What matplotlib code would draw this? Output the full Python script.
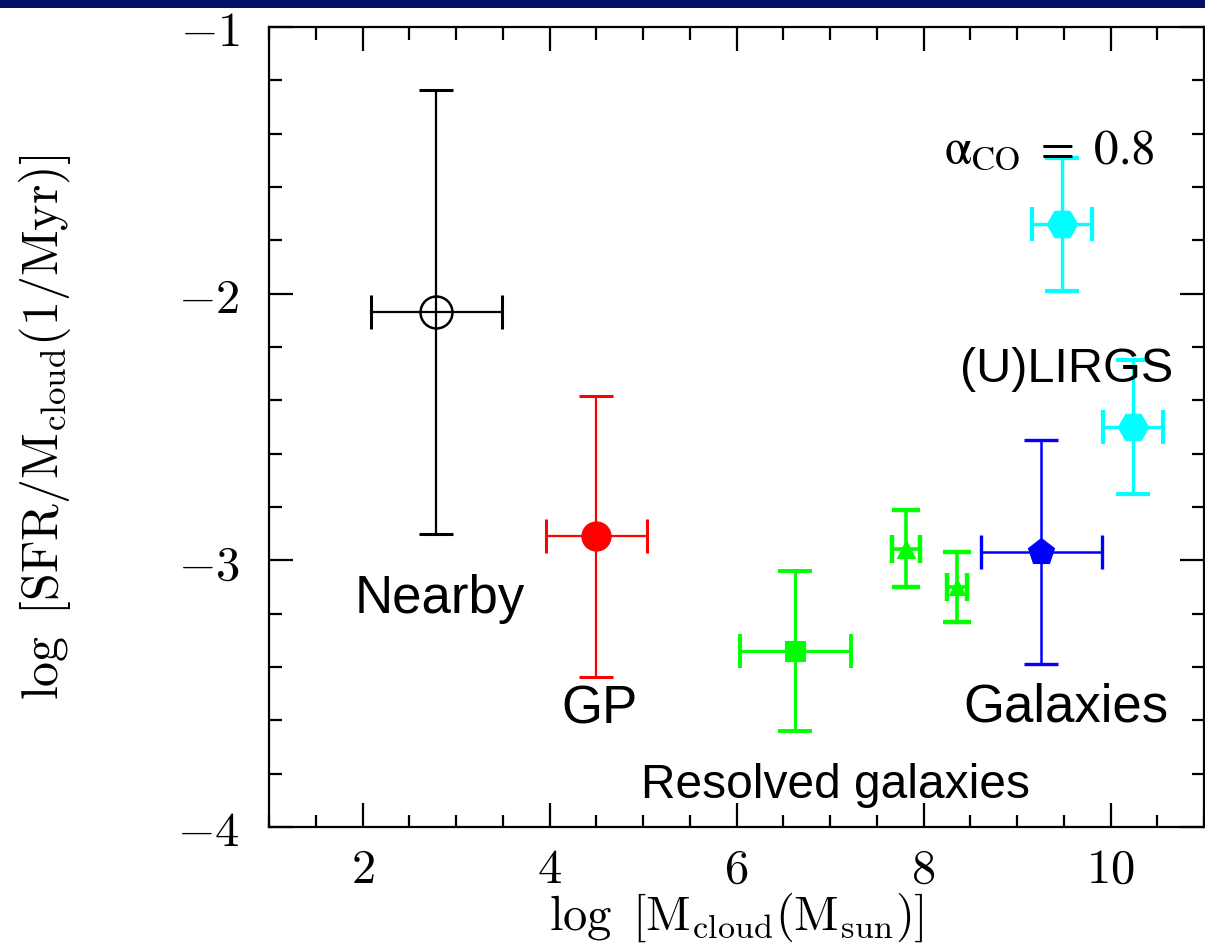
import matplotlib
matplotlib.use("Agg")
import matplotlib.pyplot as plt
from matplotlib.patches import Rectangle
from matplotlib.ticker import MultipleLocator, FuncFormatter

plt.rcParams['mathtext.fontset'] = 'cm'

# Samples: log cloud mass, log SFR per cloud mass, and their uncertainties
names = ["Nearby", "GP", "Resolved", "Resolved2", "Resolved3", "Galaxies", "ULIRG1", "ULIRG2"]
logM = [2.79, 4.50, 6.63, 7.81, 8.355, 9.26, 9.485, 10.24]
logSFR = [-2.07, -2.91, -3.34, -2.956, -3.10, -2.97, -1.74, -2.50]
xerr = [0.70, 0.54, 0.59, 0.15, 0.107, 0.647, 0.32, 0.32]
yerr = [0.833, 0.527, 0.30, 0.143, 0.132, 0.42, 0.25, 0.25]
colors = ["black", "#ff0000", "#00ff00", "#00ff00", "#00ff00", "#0000ff", "#00ffff", "#00ffff"]
markers = ["o", "o", "s", "^", "^", "p", "H", "H"]
msizes = [23, 21, 14, 13, 11, 20, 22, 22]
filled = [False, True, True, True, True, True, True, True]
capsizes = [12, 12, 12, 10, 10, 12, 12, 12]
lws = [1.6, 1.6, 2.2, 2.6, 2.6, 1.8, 2.4, 2.4]

# Text annotations: label, x, y (baseline), size
labels = ["Nearby", "GP", "Resolved galaxies", "Galaxies", "(U)LIRGS"]
label_x = [2.83, 4.54, 7.06, 9.52, 9.53]
label_y = [-3.197, -3.61, -3.89, -3.606, -2.33]
label_size = [38, 38, 34.5, 38, 35]

fig = plt.figure(figsize=(12.05, 9.51), dpi=100)
fig.patches.append(Rectangle((0, 1 - 8 / 951), 1, 8 / 951, transform=fig.transFigure,
                             facecolor="#001166", edgecolor="none", zorder=10))
ax = fig.add_axes([269 / 1205, 124 / 951, 935 / 1205, 800 / 951])

for i in range(len(names)):
    c = colors[i]
    ax.errorbar(logM[i], logSFR[i], xerr=xerr[i], yerr=yerr[i], fmt="none",
                ecolor=c, elinewidth=lws[i], capsize=capsizes[i], capthick=lws[i] + 0.6,
                zorder=2)
    ax.plot(logM[i], logSFR[i], marker=markers[i], markersize=msizes[i],
            markerfacecolor=c if filled[i] else "none", markeredgecolor=c,
            markeredgewidth=1.8 if not filled[i] else 0.8, linestyle="none", zorder=3)

for t, x, y, s in zip(labels, label_x, label_y, label_size):
    ax.text(x, y, t, ha="center", va="baseline", fontsize=s,
            family="Liberation Sans", color="black")

ax.text(9.34, -1.514, r"$\mathrm{\alpha_{CO}}\ =\ 0.8$", ha="center", va="baseline",
        fontsize=35.5, math_fontfamily="stix", color="black")

ax.set_xlim(1, 11)
ax.set_ylim(-4, -1)
ax.xaxis.set_major_locator(MultipleLocator(2))
ax.xaxis.set_minor_locator(MultipleLocator(0.5))
ax.yaxis.set_major_locator(MultipleLocator(1))
ax.yaxis.set_minor_locator(MultipleLocator(0.2))

fmt = FuncFormatter(lambda v, p: r"$%d$" % round(v))
ax.xaxis.set_major_formatter(fmt)
ax.yaxis.set_major_formatter(fmt)

ax.tick_params(which="both", direction="in", top=True, right=True, width=1.6, color="black")
ax.tick_params(which="major", length=17, labelsize=35)
ax.tick_params(axis="x", which="major", pad=13)
ax.tick_params(axis="y", which="major", pad=21)
ax.tick_params(which="minor", length=9)
for s in ax.spines.values():
    s.set_linewidth(1.6)

ax.set_xlabel(r"$\log\ [\mathrm{M_{cloud}(M_{sun})}]$", fontsize=35, labelpad=-2)
ax.set_ylabel(r"$\log\ [\mathrm{SFR/M_{cloud}(1/Myr)}]$", fontsize=36, labelpad=75)

fig.savefig("out.png", dpi=100)
